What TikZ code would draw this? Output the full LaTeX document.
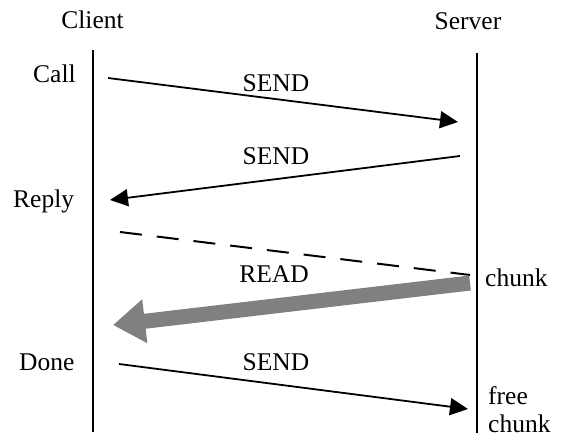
\documentclass[tikz,border=0pt]{standalone}
\usepackage{fontspec}
\setmainfont{Liberation Serif}
\usetikzlibrary{arrows.meta}
\begin{document}
\begin{tikzpicture}[x=1pt,y=-1pt,
  lbl/.style={inner sep=0pt,font=\fontsize{25.5}{28}\selectfont},
  life/.style={line width=1.9pt},
  msg/.style={line width=1.8pt,-{Triangle[length=18pt,width=17pt]}},
  bulk/.style={line width=15pt,draw={rgb,255:red,128;green,128;blue,128},
    -{Triangle[length=32pt,width=42pt]}},
  ctrl/.style={line width=2pt,dash pattern=on 22pt off 15pt}]
\useasboundingbox (0,0) rectangle (562,438);

% lifelines
\coordinate (cTop) at (93,50);   \coordinate (cBot) at (93,432);
\coordinate (sTop) at (477,53);  \coordinate (sBot) at (477,433);
\draw[life] (cTop) -- (cBot);
\draw[life] (sTop) -- (sBot);

% column headings
\node[lbl,anchor=base] (client) at (92.5,29) {Client};
\node[lbl,anchor=base] (server) at (468,30) {Server};

% events on the client side
\node[lbl,anchor=base west] (call)  at (33,83)  {Call};
\node[lbl,anchor=base west] (reply) at (13,208) {Reply};
\node[lbl,anchor=base west] (done)  at (19,370) {Done};

% events on the server side
\node[lbl,anchor=base west] (chunk) at (485,287) {chunk};
\node[lbl,anchor=north west,align=left] (free) at (488,386) {free\\chunk};

% message end points
\coordinate (m1a) at (108,78);  \coordinate (m1b) at (458,122);
\coordinate (m2a) at (460,156); \coordinate (m2b) at (110,200);
\coordinate (d1a) at (120,232); \coordinate (d1b) at (470,275);
\coordinate (r1a) at (470,283); \coordinate (r1b) at (113,325);
\coordinate (m3a) at (119,364); \coordinate (m3b) at (468,409);

% messages
\draw[msg] (m1a) -- (m1b);
\node[lbl,anchor=base] (send1) at (276,92) {SEND};
\draw[msg] (m2a) -- (m2b);
\node[lbl,anchor=base] (send2) at (276,165) {SEND};
\draw[ctrl] (d1a) -- (d1b);
\draw[bulk] (r1a) -- (r1b);
\node[lbl,anchor=base] (read) at (274,283) {READ};
\draw[msg] (m3a) -- (m3b);
\node[lbl,anchor=base] (send3) at (276,370) {SEND};
\end{tikzpicture}
\end{document}
